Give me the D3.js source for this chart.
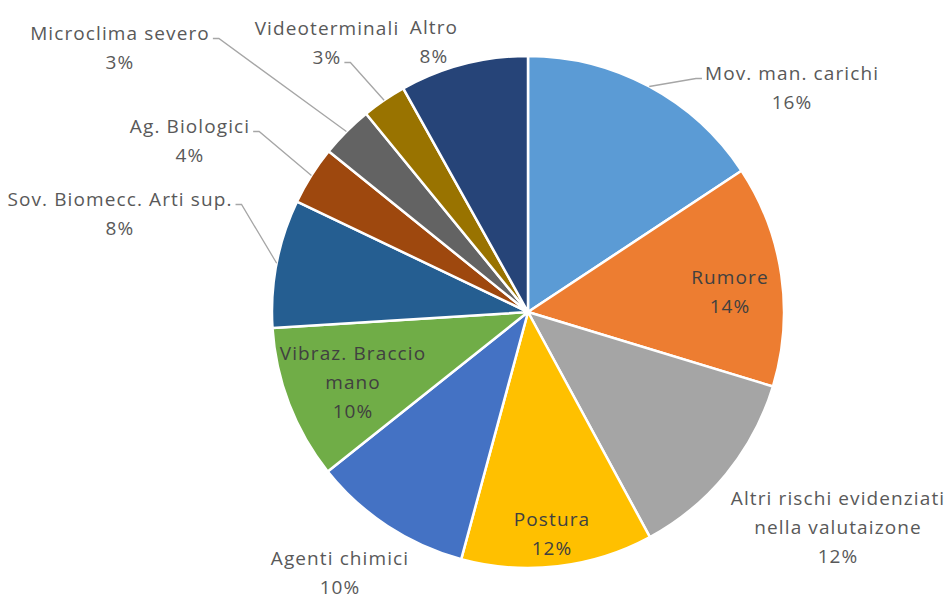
<!DOCTYPE html>
<html>
<head>
<meta charset="utf-8">
<script src="https://cdn.jsdelivr.net/npm/d3@7"></script>
<style>
  body { margin: 0; background: #fff; }
  text { font-family: "Open Sans", Lato, sans-serif; font-size: 19px; letter-spacing: 1.1px; }
</style>
</head>
<body>
<svg id="chart" width="947" height="601"></svg>
<script>
// categories, clockwise from 12 o'clock
let categories = [
  ["Mov. man. carichi"],
  ["Rumore"],
  ["Altri rischi evidenziati", "nella valutaizone"],
  ["Postura"],
  ["Agenti chimici"],
  ["Vibraz. Braccio", "mano"],
  ["Sov. Biomecc. Arti sup."],
  ["Ag. Biologici"],
  ["Microclima severo"],
  ["Videoterminali"],
  ["Altro"]
];
let values = [15.7, 14.0, 12.4, 12.1, 10.1, 9.7, 8.1, 3.7, 3.3, 2.8, 8.1];
let colors = ["#5b9bd5", "#ed7d31", "#a5a5a5", "#ffc000", "#4472c4", "#70ad47",
              "#255e91", "#9e480e", "#636363", "#997300", "#264478"];

// label block centre, as offset from pie centre; inside = label sits on the slice
// attach = which text line the leader line joins
let labelLayout = [
  {dx: 264, dy: -224, leader: true, attach: 0},
  {dx: 202, dy: -20, inside: true},
  {dx: 310, dy: 215},
  {dx: 24, dy: 222, inside: true},
  {dx: -188, dy: 261},
  {dx: -175, dy: 70, inside: true},
  {dx: -408, dy: -98, leader: true, attach: 0},
  {dx: -338, dy: -171, leader: true, attach: 0},
  {dx: -408, dy: -264, leader: true, attach: 0},
  {dx: -201, dy: -269, leader: true, attach: 1},
  {dx: -94, dy: -270}
];

let cx = 528, cy = 312, radius = 256, lineH = 29;
let total = d3.sum(values);

let svg = d3.select("#chart");
let g = svg.append("g").attr("transform", "translate(" + cx + "," + cy + ")");

let pie = d3.pie().sort(null).value(d => d);
let arc = d3.arc().innerRadius(0).outerRadius(radius);
let arcs = pie(values);

g.selectAll("path.slice")
  .data(arcs)
  .enter()
  .append("path")
    .attr("class", "slice")
    .attr("d", arc)
    .attr("fill", (d, i) => colors[i])
    .attr("stroke", "#fff")
    .attr("stroke-width", 2.5)
    .attr("stroke-linejoin", "round");

let leaderG = g.append("g");

let labels = g.selectAll("g.label")
  .data(arcs)
  .enter()
  .append("g")
    .attr("class", "label")
    .attr("transform", (d, i) => "translate(" + labelLayout[i].dx + "," + labelLayout[i].dy + ")");

labels.each(function(d, i) {
  let lines = categories[i].concat([Math.round(d.value / total * 100) + "%"]);
  let t = d3.select(this).append("text")
    .attr("text-anchor", "middle")
    .attr("fill", labelLayout[i].inside ? "#404040" : "#595959");
  lines.forEach((s, k) => {
    t.append("tspan")
      .attr("x", 0)
      .attr("y", (k - (lines.length - 1) / 2) * lineH)
      .attr("dy", "0.35em")
      .text(s);
  });
});

// leader lines: arc edge at mid-angle -> knee -> short stub beside the label line
labels.each(function(d, i) {
  let lay = labelLayout[i];
  if (!lay.leader) return;
  let mid = (d.startAngle + d.endAngle) / 2;
  let p0 = [radius * Math.sin(mid), -radius * Math.cos(mid)];
  let spans = d3.select(this).selectAll("tspan");
  let n = spans.size();
  let span = spans.nodes()[lay.attach];
  let w = span.getComputedTextLength();
  let yLine = lay.dy + (lay.attach - (n - 1) / 2) * lineH + 5;
  let side = lay.dx > 0 ? -1 : 1;
  let xEnd = lay.dx + side * (w / 2 + 3);
  let xKnee = xEnd + side * 6;
  leaderG.append("path")
    .attr("d", d3.line()([p0, [xKnee, yLine], [xEnd, yLine]]))
    .attr("fill", "none")
    .attr("stroke", "#a6a6a6")
    .attr("stroke-width", 1.3);
});
</script>
</body>
</html>
